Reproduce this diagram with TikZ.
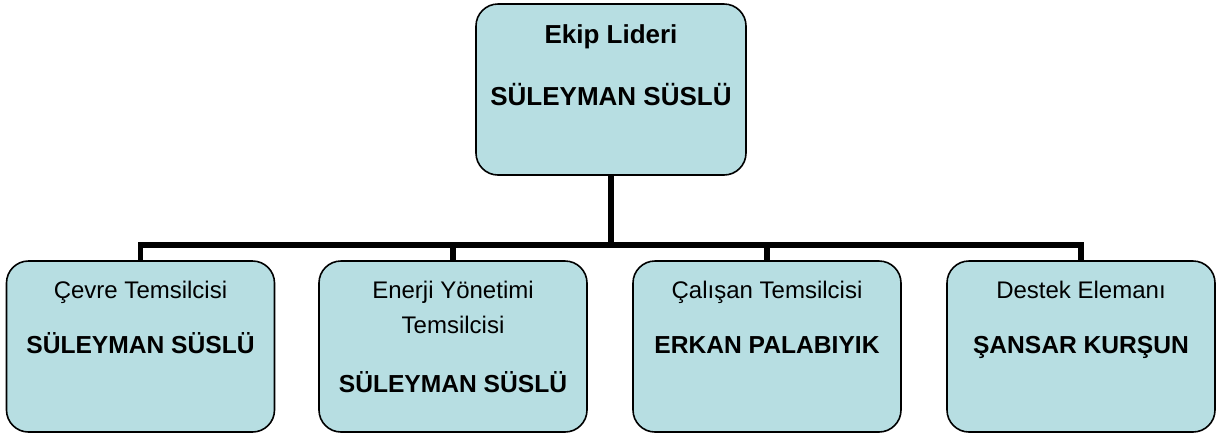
\documentclass[tikz,border=0pt]{standalone}
\usepackage{fontspec}
\setmainfont{Liberation Sans}
\definecolor{kutuRenk}{RGB}{183,222,226}

\begin{document}
\begin{tikzpicture}[x=0.5pt,y=-0.5pt,
    kutu/.style={draw, fill=kutuRenk, rounded corners=11pt, line width=0.8pt,
      minimum width=134pt, minimum height=85.5pt, inner sep=0pt},
    gorev/.style={anchor=base, font=\fontsize{12}{14}\selectfont},
    isim/.style={anchor=base, font=\fontsize{12.3}{14}\selectfont\bfseries},
    lider/.style={anchor=base, font=\fontsize{13}{15}\selectfont\bfseries},
    hat/.style={line width=2.6pt}]

        \useasboundingbox (0,0) rectangle (1222,435);

        % kutular
        \node[kutu, minimum width=135pt] (ekip)    at (611,89.5)   {};
        \node[kutu] (cevre)   at (140.5,346.5) {};
        \node[kutu] (enerji)  at (453,346.5)   {};
        \node[kutu] (calisan) at (767,346.5)   {};
        \node[kutu] (destek)  at (1081,346.5)  {};

        % yazilar
        \node[lider] (ekip-g)   at (611,43)  {Ekip Lideri};
        \node[lider] (ekip-i)   at (611,105) {SÜLEYMAN SÜSLÜ};

        \node[gorev] (cevre-g)  at (140.5,298) {Çevre Temsilcisi};
        \node[isim]  (cevre-i)  at (140.5,353) {SÜLEYMAN SÜSLÜ};

        \node[gorev] (enerji-g1) at (453,298) {Enerji Yönetimi};
        \node[gorev] (enerji-g2) at (453,333) {Temsilcisi};
        \node[isim]  (enerji-i)  at (453,392) {SÜLEYMAN SÜSLÜ};

        \node[gorev] (calisan-g) at (767,298) {Çalışan Temsilcisi};
        \node[isim]  (calisan-i) at (767,353) {ERKAN PALABIYIK};

        \node[gorev] (destek-g)  at (1081,298) {Destek Elemanı};
        \node[isim]  (destek-i)  at (1081,353) {ŞANSAR KURŞUN};

        % baglantilar
        \coordinate (bar) at (611,245);
        \draw[hat] (ekip) -- (bar);
        \foreach \k in {cevre,enerji,calisan,destek}
          \draw[hat] (bar) -| (\k.north);

\end{tikzpicture}
\end{document}
